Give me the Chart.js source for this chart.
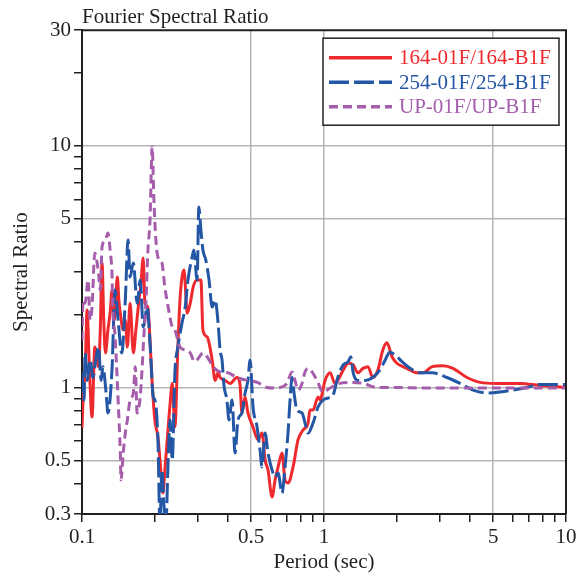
<!DOCTYPE html>
<html>
<head>
<meta charset="utf-8">
<script src="https://cdn.jsdelivr.net/npm/chart.js@4.4.1/dist/chart.umd.min.js"></script>
<style>
  html, body { margin: 0; padding: 0; background: #fff; }
</style>
</head>
<body>
<canvas id="ratioChart" width="580" height="576"></canvas>
<script>
// values (period in sec, spectral ratio)
const redPeriod = [0.100,0.101,0.103,0.105,0.107,0.110,0.113,0.117,0.119,0.121,0.123,0.125,0.128,0.131,0.133,0.136,0.140,0.142,0.144,0.148,0.151,0.154,0.158,0.163,0.167,0.172,0.175,0.179,0.182,0.187,0.191,0.195,0.200,0.206,0.210,0.216,0.220,0.225,0.231,0.236,0.242,0.249,0.254,0.259,0.264,0.272,0.280,0.288,0.299,0.310,0.316,0.329,0.335,0.345,0.355,0.365,0.372,0.390,0.409,0.437,0.450,0.458,0.472,0.485,0.509,0.534,0.555,0.571,0.587,0.610,0.628,0.646,0.671,0.690,0.710,0.745,0.781,0.819,0.859,0.875,0.901,0.945,0.963,1.01,1.06,1.11,1.14,1.20,1.26,1.32,1.38,1.45,1.52,1.59,1.67,1.75,1.82,1.91,2.00,2.20,2.42,2.57,2.80,3.10,3.41,3.90,4.41,5.19,6.46,7.81,10];
const redRatio = [0.680,0.888,1.18,2.09,1.30,0.755,1.47,1.22,1.73,3.27,1.90,1.39,1.73,2.09,2.53,1.90,2.86,2.30,2.03,1.73,1.90,1.47,2.23,1.39,1.73,2.30,2.65,3.43,2.23,2.15,1.57,1.04,0.734,0.623,0.502,0.366,0.456,0.607,0.847,1.04,0.687,1.47,2.30,2.86,3.06,2.03,2.23,2.60,2.78,2.78,1.73,1.62,1.53,1.30,1.07,1.15,1.10,1.07,1.04,1.10,1.02,0.785,0.914,0.785,0.687,0.607,0.648,0.502,0.456,0.353,0.415,0.469,0.536,0.415,0.403,0.469,0.607,0.667,0.713,0.807,0.807,0.914,0.888,1.07,1.15,1.04,1.07,1.18,1.26,1.24,1.15,1.20,1.22,1.10,1.18,1.43,1.53,1.34,1.26,1.20,1.15,1.15,1.22,1.23,1.20,1.10,1.05,1.04,1.04,1.02,1.00];

const bluePeriod = [0.100,0.102,0.103,0.105,0.108,0.111,0.114,0.117,0.120,0.122,0.126,0.128,0.133,0.137,0.141,0.146,0.151,0.155,0.158,0.163,0.169,0.174,0.179,0.186,0.191,0.197,0.200,0.206,0.210,0.214,0.218,0.222,0.227,0.231,0.236,0.242,0.249,0.259,0.267,0.274,0.285,0.290,0.299,0.304,0.310,0.316,0.325,0.335,0.345,0.355,0.365,0.372,0.379,0.386,0.397,0.405,0.417,0.429,0.441,0.458,0.472,0.485,0.495,0.509,0.529,0.544,0.555,0.571,0.587,0.610,0.628,0.646,0.671,0.690,0.710,0.724,0.738,0.752,0.773,0.811,0.835,0.859,0.901,0.945,0.991,1.04,1.09,1.14,1.20,1.26,1.29,1.32,1.38,1.48,1.59,1.70,1.79,1.87,1.97,2.10,2.27,2.49,2.80,3.22,3.65,4.13,4.72,5.34,6.04,6.90,7.81,10];
const blueRatio = [1.15,0.888,1.39,1.07,1.30,1.10,1.30,1.47,1.07,1.22,0.931,0.785,1.18,2.53,1.90,1.39,2.30,4.07,2.86,3.27,2.23,2.78,1.78,2.15,1.53,0.914,0.888,0.607,0.270,0.456,0.327,0.270,0.502,0.734,0.502,1.15,1.47,1.85,2.15,2.78,3.46,3.70,2.78,5.57,4.48,3.70,3.36,2.78,2.15,2.30,1.85,1.43,1.30,1.02,0.888,0.734,0.888,0.536,0.734,0.785,0.949,1.07,1.30,0.831,0.687,0.552,0.469,0.648,0.536,0.456,0.427,0.443,0.366,0.469,0.648,0.888,1.10,0.949,0.807,0.785,0.713,0.648,0.713,0.831,0.888,0.905,0.931,1.10,1.24,1.28,1.34,1.15,1.07,1.07,1.10,1.18,1.30,1.40,1.36,1.28,1.20,1.15,1.15,1.10,1.04,0.976,0.949,0.958,0.976,1.00,1.03,1.03];

const upPeriod = [0.100,0.101,0.103,0.106,0.108,0.110,0.113,0.117,0.119,0.121,0.125,0.128,0.131,0.133,0.134,0.137,0.141,0.144,0.145,0.148,0.151,0.154,0.158,0.163,0.166,0.169,0.174,0.177,0.180,0.184,0.187,0.191,0.195,0.198,0.202,0.206,0.214,0.220,0.227,0.236,0.242,0.254,0.267,0.280,0.292,0.299,0.316,0.329,0.348,0.372,0.401,0.437,0.481,0.530,0.581,0.616,0.658,0.703,0.738,0.759,0.781,0.811,0.835,0.859,0.892,0.936,0.991,1.06,1.16,1.28,1.45,1.66,1.93,2.74,4.41,6.46,10];
const upRatio = [1.57,2.30,2.23,2.78,1.90,2.15,3.60,2.97,2.53,3.81,4.07,4.35,3.60,2.97,2.15,1.62,0.888,0.536,0.415,0.536,0.648,0.734,0.888,0.949,1.22,0.785,0.914,1.18,1.62,2.30,3.60,4.92,9.9,6.13,4.07,3.46,3.27,2.60,2.15,1.78,1.73,1.47,1.43,1.39,1.28,1.30,1.39,1.34,1.22,1.16,1.15,1.10,1.07,1.05,1.00,0.995,1.00,1.04,1.16,1.07,0.976,1.04,1.16,1.20,1.16,1.07,0.958,0.995,1.04,1.05,1.04,1.00,1.00,0.995,0.995,0.995,0.995];

// axis ticks
const xTicks = [0.1,0.2,0.3,0.4,0.5,0.6,0.7,0.8,0.9,1,2,3,4,5,6,7,8,9,10];
const xLabels = [0.1,0.5,1,5,10];
const xGrid = [0.5,1,5];
const yTicks = [0.3,0.4,0.5,0.6,0.7,0.8,0.9,1,2,3,4,5,6,7,8,9,10,20,30];
const yLabels = [0.3,0.5,1,5,10,30];
const yGrid = [0.5,1,5,10];

const serif = "'Liberation Serif', 'Times New Roman', serif";
const ink = '#231f20';
const gridColor = '#b5b5b5';

const toPoints = (p, r) => p.map((x, i) => ({ x, y: r[i] }));

// box frame on top/right + legend in a bordered box
const frameAndLegend = {
    id: 'frameAndLegend',
    afterDatasetsDraw(chart) {
        const { ctx, chartArea: a } = chart;
        ctx.save();
        ctx.strokeStyle = ink;
        ctx.lineWidth = 2;
        ctx.beginPath();
        ctx.moveTo(a.left, a.top);
        ctx.lineTo(a.right, a.top);
        ctx.lineTo(a.right, a.bottom);
        ctx.stroke();

        const bx = a.right - 243, by = a.top + 8, bw = 236, bh = 87;
        ctx.fillStyle = '#fff';
        ctx.fillRect(bx, by, bw, bh);
        ctx.lineWidth = 1.5;
        ctx.strokeRect(bx, by, bw, bh);

        ctx.font = '21px ' + serif;
        ctx.textBaseline = 'middle';
        chart.data.datasets.forEach((ds, i) => {
            const y = by + 19.5 + i * 24.5;
            ctx.strokeStyle = ds.borderColor;
            ctx.lineWidth = 3.5;
            ctx.setLineDash(ds.borderDash || []);
            ctx.beginPath();
            ctx.moveTo(bx + 6, y);
            ctx.lineTo(bx + 69, y);
            ctx.stroke();
            ctx.setLineDash([]);
            ctx.fillStyle = ds.borderColor;
            ctx.fillText(ds.label, bx + 76, y + 1);
        });
        ctx.restore();
    },
};

const ctx = document.getElementById('ratioChart').getContext('2d');
const ratioChart = new Chart(ctx, {
    type: 'line',
    data: {
        datasets: [{
            label: '164-01F/164-B1F',
            data: toPoints(redPeriod, redRatio),
            borderColor: '#ee2a2e',
            borderWidth: 3,
            order: 3,
        }, {
            label: '254-01F/254-B1F',
            data: toPoints(bluePeriod, blueRatio),
            borderColor: '#2456a6',
            borderWidth: 3,
            borderDash: [20, 5],
            order: 2,
        }, {
            label: 'UP-01F/UP-B1F',
            data: toPoints(upPeriod, upRatio),
            borderColor: '#a55dac',
            borderWidth: 3,
            borderDash: [9, 5],
            order: 1,
        }],
    },
    options: {
        responsive: false,
        animation: false,
        layout: { padding: { left: 0, right: 14, top: 0, bottom: 0 } },
        elements: {
            point: { radius: 0 },
            line: { cubicInterpolationMode: 'monotone' },
        },
        plugins: {
            legend: { display: false },
            tooltip: { enabled: false },
            title: {
                display: true,
                text: 'Fourier Spectral Ratio',
                align: 'start',
                fullSize: false,
                color: ink,
                font: { family: serif, size: 21, weight: 'normal' },
                padding: { top: 5, bottom: 0 },
            },
        },
        scales: {
            x: {
                type: 'logarithmic',
                min: 0.1,
                max: 10,
                afterBuildTicks: (s) => { s.ticks = xTicks.map((v) => ({ value: v })); },
                afterFit: (s) => { s.height = 62; },
                ticks: {
                    autoSkip: false,
                    maxRotation: 0,
                    padding: 3,
                    color: ink,
                    font: { family: serif, size: 21 },
                    callback: (v) => (xLabels.includes(v) ? String(v) : ''),
                },
                grid: {
                    color: (c) => (c.tick && xGrid.includes(c.tick.value) ? gridColor : 'rgba(0,0,0,0)'),
                    lineWidth: 1.5,
                    tickColor: ink,
                    tickLength: 8,
                    tickWidth: 1.5,
                },
                border: { color: ink, width: 2 },
                title: {
                    display: true,
                    text: 'Period (sec)',
                    color: ink,
                    font: { family: serif, size: 21 },
                    padding: { top: 0, bottom: 1 },
                },
            },
            y: {
                type: 'logarithmic',
                min: 0.3,
                max: 30,
                afterBuildTicks: (s) => { s.ticks = yTicks.map((v) => ({ value: v })); },
                afterFit: (s) => { s.width = 82; },
                ticks: {
                    autoSkip: false,
                    padding: 3,
                    color: ink,
                    font: { family: serif, size: 21 },
                    callback: (v) => (yLabels.includes(v) ? String(v) : ''),
                },
                grid: {
                    color: (c) => (c.tick && yGrid.includes(c.tick.value) ? gridColor : 'rgba(0,0,0,0)'),
                    lineWidth: 1.5,
                    tickColor: ink,
                    tickLength: 8,
                    tickWidth: 1.5,
                },
                border: { color: ink, width: 2 },
                title: {
                    display: true,
                    text: 'Spectral Ratio',
                    color: ink,
                    font: { family: serif, size: 21 },
                    padding: { top: 9, bottom: 0 },
                },
            },
        },
    },
    plugins: [frameAndLegend],
});
</script>
</body>
</html>
